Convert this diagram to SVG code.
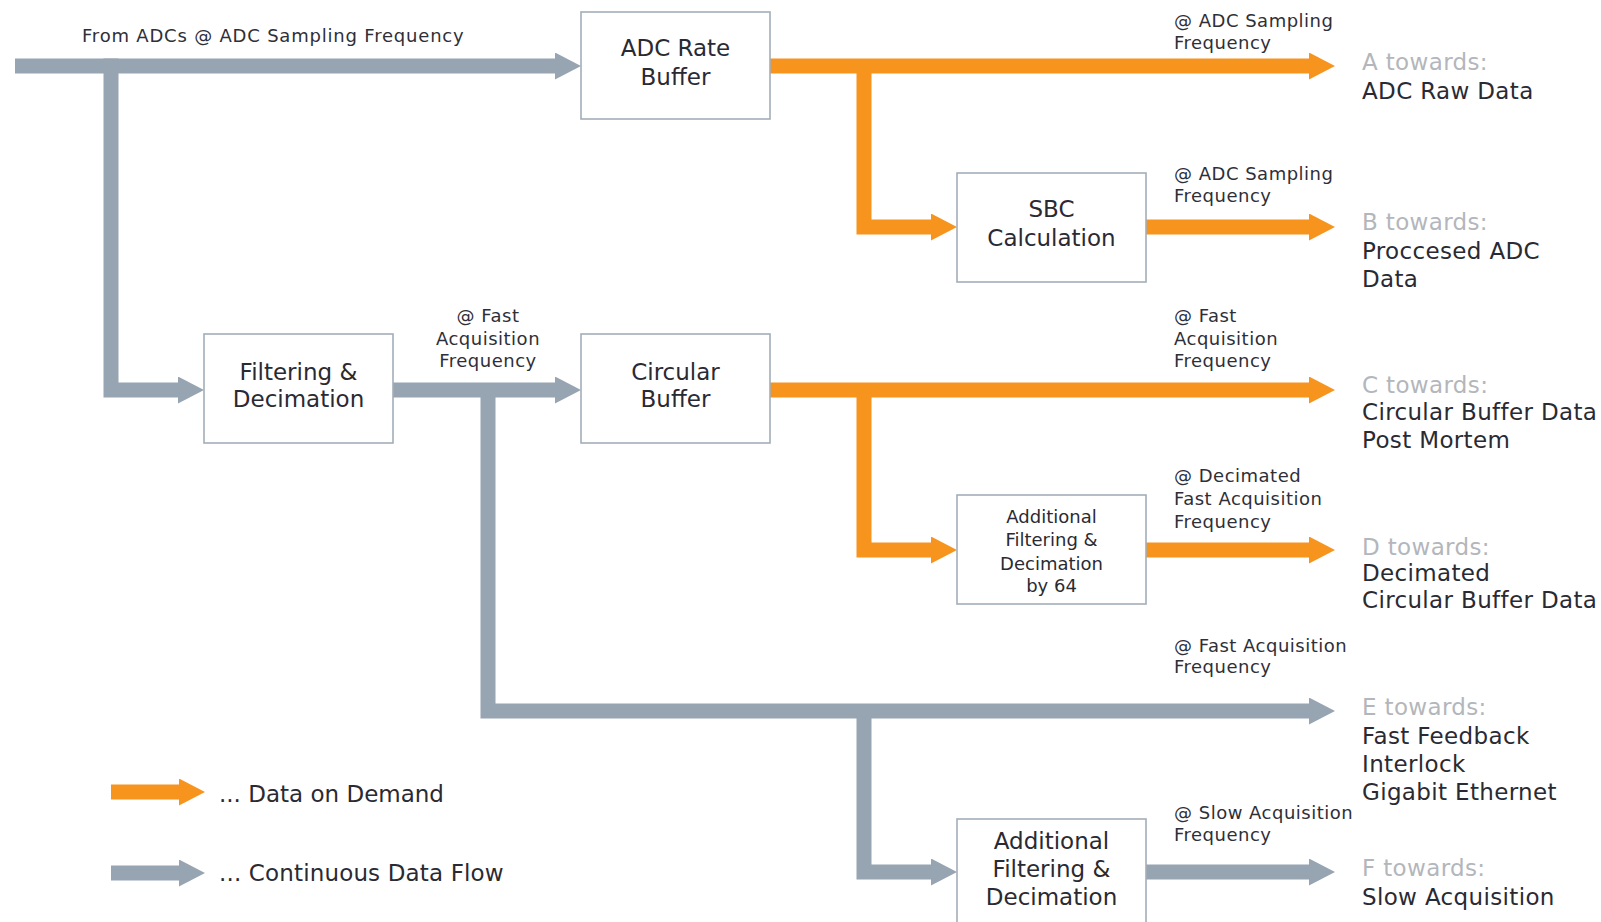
<svg xmlns="http://www.w3.org/2000/svg" width="1601" height="922" viewBox="0 0 1601 922">
<style>
.bg{fill:#ffffff}
.box{fill:#ffffff;stroke:#a3adb8;stroke-width:1.6}
.g{fill:none;stroke:#97a4b1;stroke-width:15;stroke-linejoin:miter;stroke-linecap:butt}
.o{fill:none;stroke:#f7941e;stroke-width:15;stroke-linejoin:miter;stroke-linecap:butt}
.bt{font-family:"DejaVu Sans",sans-serif;font-size:23px;fill:#2a2a33;text-anchor:middle}
.bts{font-family:"DejaVu Sans",sans-serif;font-size:18px;fill:#2a2a33;text-anchor:middle}
.sl{font-family:"DejaVu Sans",sans-serif;font-size:18px;fill:#2f2f38;letter-spacing:0.5px}
.slc{font-family:"DejaVu Sans",sans-serif;font-size:18px;fill:#2f2f38;letter-spacing:0.5px;text-anchor:middle}
.tw{font-family:"DejaVu Sans",sans-serif;font-size:23px;fill:#b3b6bb;letter-spacing:0.35px}
.dest{font-family:"DejaVu Sans",sans-serif;font-size:23px;fill:#2a2a33;letter-spacing:0.35px}
</style>
<defs>
<marker id="ag" markerUnits="userSpaceOnUse" markerWidth="26" markerHeight="27" refX="1" refY="13.5" orient="auto" viewBox="0 0 26 27">
<path d="M0,0 L26,13.5 L0,27 z" fill="#97a4b1"/>
</marker>
<marker id="ao" markerUnits="userSpaceOnUse" markerWidth="26" markerHeight="27" refX="1" refY="13.5" orient="auto" viewBox="0 0 26 27">
<path d="M0,0 L26,13.5 L0,27 z" fill="#f7941e"/>
</marker>
</defs>
<rect class="bg" x="0" y="0" width="1601" height="922"/>

<g id="connectors">
<path class="g" d="M15,66 H556" marker-end="url(#ag)"/>
<path class="g" d="M111,58.5 V390 H179" marker-end="url(#ag)"/>
<path class="g" d="M393,390 H556" marker-end="url(#ag)"/>
<path class="g" d="M488,390 V711 H1310" marker-end="url(#ag)"/>
<path class="g" d="M864,711 V872 H932" marker-end="url(#ag)"/>
<path class="g" d="M1146,872 H1310" marker-end="url(#ag)"/>
<path class="o" d="M770,66 H1310" marker-end="url(#ao)"/>
<path class="o" d="M864,66 V227 H932" marker-end="url(#ao)"/>
<path class="o" d="M1146,227 H1310" marker-end="url(#ao)"/>
<path class="o" d="M770,390 H1310" marker-end="url(#ao)"/>
<path class="o" d="M864,390 V550 H932" marker-end="url(#ao)"/>
<path class="o" d="M1146,550 H1310" marker-end="url(#ao)"/>
</g>

<g id="node-adc-rate-buffer">
<rect class="box" x="581" y="12" width="189" height="107"/>
<text class="bt" x="675.5" y="56">ADC Rate</text>
<text class="bt" x="675.5" y="85">Buffer</text>
</g>
<g id="node-sbc">
<rect class="box" x="957" y="173" width="189" height="109"/>
<text class="bt" x="1051.5" y="217">SBC</text>
<text class="bt" x="1051.5" y="246">Calculation</text>
</g>
<g id="node-filtering">
<rect class="box" x="204" y="334" width="189" height="109"/>
<text class="bt" x="298.5" y="380">Filtering &amp;</text>
<text class="bt" x="298.5" y="407">Decimation</text>
</g>
<g id="node-circular-buffer">
<rect class="box" x="581" y="334" width="189" height="109"/>
<text class="bt" x="675.5" y="380">Circular</text>
<text class="bt" x="675.5" y="407">Buffer</text>
</g>
<g id="node-add-filter-64">
<rect class="box" x="957" y="495" width="189" height="109"/>
<text class="bts" x="1051.5" y="523">Additional</text>
<text class="bts" x="1051.5" y="546">Filtering &amp;</text>
<text class="bts" x="1051.5" y="570">Decimation</text>
<text class="bts" x="1051.5" y="592">by 64</text>
</g>
<g id="node-add-filter">
<rect class="box" x="957" y="819" width="189" height="115"/>
<text class="bt" x="1051.5" y="849">Additional</text>
<text class="bt" x="1051.5" y="877">Filtering &amp;</text>
<text class="bt" x="1051.5" y="905">Decimation</text>
</g>

<g id="flow-labels">
<text class="sl" x="82" y="41.5" style="letter-spacing:0.8px">From ADCs @ ADC Sampling Frequency</text>
<text class="sl" x="1174" y="27">@ ADC Sampling</text>
<text class="sl" x="1174" y="48.5">Frequency</text>
<text class="sl" x="1174" y="180">@ ADC Sampling</text>
<text class="sl" x="1174" y="202">Frequency</text>
<text class="slc" x="488" y="322">@ Fast</text>
<text class="slc" x="488" y="345">Acquisition</text>
<text class="slc" x="488" y="367">Frequency</text>
<text class="sl" x="1174" y="322">@ Fast</text>
<text class="sl" x="1174" y="345">Acquisition</text>
<text class="sl" x="1174" y="367">Frequency</text>
<text class="sl" x="1174" y="482">@ Decimated</text>
<text class="sl" x="1174" y="505">Fast Acquisition</text>
<text class="sl" x="1174" y="528">Frequency</text>
<text class="sl" x="1174" y="652">@ Fast Acquisition</text>
<text class="sl" x="1174" y="673">Frequency</text>
<text class="sl" x="1174" y="819">@ Slow Acquisition</text>
<text class="sl" x="1174" y="841">Frequency</text>
</g>

<g id="destinations">
<text class="tw" x="1362" y="69.5">A towards:</text>
<text class="dest" x="1362" y="99">ADC Raw Data</text>
<text class="tw" x="1362" y="230">B towards:</text>
<text class="dest" x="1362" y="259">Proccesed ADC</text>
<text class="dest" x="1362" y="287">Data</text>
<text class="tw" x="1362" y="393">C towards:</text>
<text class="dest" x="1362" y="420">Circular Buffer Data</text>
<text class="dest" x="1362" y="448">Post Mortem</text>
<text class="tw" x="1362" y="555">D towards:</text>
<text class="dest" x="1362" y="581">Decimated</text>
<text class="dest" x="1362" y="608">Circular Buffer Data</text>
<text class="tw" x="1362" y="715">E towards:</text>
<text class="dest" x="1362" y="744">Fast Feedback</text>
<text class="dest" x="1362" y="772">Interlock</text>
<text class="dest" x="1362" y="800">Gigabit Ethernet</text>
<text class="tw" x="1362" y="876">F towards:</text>
<text class="dest" x="1362" y="905">Slow Acquisition</text>
</g>

<g id="legend">
<path class="o" d="M111,792 H180" marker-end="url(#ao)"/>
<text class="dest" x="219" y="802" style="letter-spacing:0px">... Data on Demand</text>
<path class="g" d="M111,873 H180" marker-end="url(#ag)"/>
<text class="dest" x="219" y="881" style="letter-spacing:0.15px">... Continuous Data Flow</text>
</g>
</svg>
